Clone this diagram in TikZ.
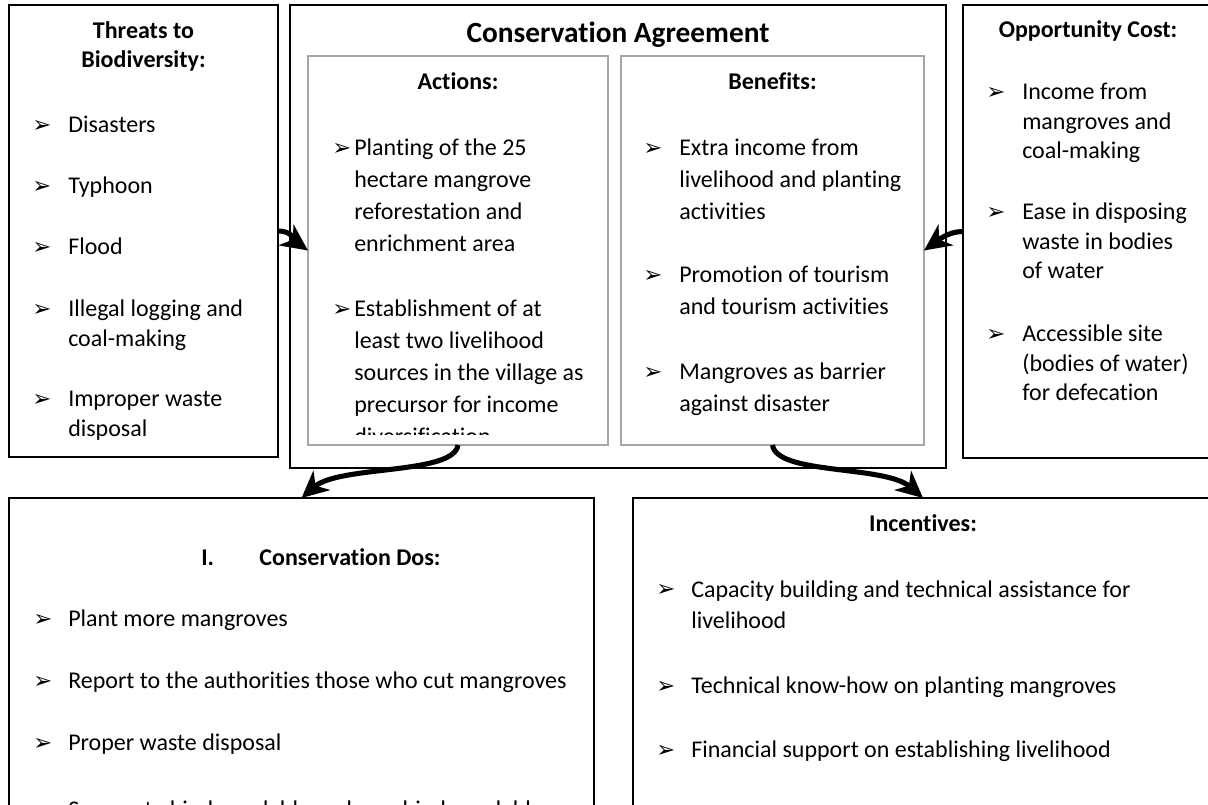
\documentclass[tikz,border=0pt]{standalone}
\usepackage{fontspec}
\setmainfont[Ligatures=NoCommon]{Carlito}
\newfontfamily\arrowfont{DejaVu Sans}
\usetikzlibrary{arrows.meta, fit}

\begin{document}
\begin{tikzpicture}[x=0.75pt, y=-0.75pt,
    outerbox/.style={draw=black, line width=1.9pt, inner sep=0pt, outer sep=0pt},
    innerbox/.style={draw=black!35, line width=1.6pt, inner sep=0pt, outer sep=0pt},
    head/.style={font=\bfseries\fontsize{18}{21.75}\selectfont, anchor=base, align=center, inner sep=0pt},
    bul/.style={font=\arrowfont\fontsize{17}{17}\selectfont, anchor=base west, inner sep=0pt},
    txt/.style={font=\fontsize{18}{22.5}\selectfont, anchor=base west, align=left, inner sep=0pt},
    wide/.style={font=\fontsize{18}{24}\selectfont},
    tight/.style={font=\fontsize{18}{22}\selectfont},
    flow/.style={line width=3.8pt, -{Stealth[length=20pt, width=19pt, inset=6pt]}}]

    \useasboundingbox (0,0) rectangle (1208,805);
    \clip (0,0) rectangle (1208,805);

    % boxes
    \node[outerbox, fit={(9,5) (278,457)}] (threats) {};
    \node[outerbox, fit={(290,5) (946,468)}] (agree) {};
    \node[innerbox, fit={(308,56) (608,445)}] (actions) {};
    \node[innerbox, fit={(621,56) (924,445)}] (benefits) {};
    \node[outerbox, fit={(963,5) (1213,458)}] (opp) {};
    \node[outerbox, fit={(9,498) (594,840)}] (dos) {};
    \node[outerbox, fit={(633,498) (1213,840)}] (incent) {};

    % headings (base = last line)
    \node[head] (thrhead) at (143.5,68) {Threats to\\Biodiversity:};
    \node[head, font=\bfseries\fontsize{22}{26}\selectfont] (agreehead) at (618,43) {Conservation Agreement};
    \node[head] (acthead) at (458,90) {Actions:};
    \node[head] (benhead) at (772.5,90) {Benefits:};
    \node[head] (opphead) at (1088,38) {Opportunity Cost:};
    \node[head, anchor=base west] (doshead) at (201,566) {I.\hspace{34pt}Conservation Dos:};
    \node[head] (inchead) at (923,532) {Incentives:};

    % threats
    \foreach \y/\n/\t [count=\i] in {133/1/Disasters, 194/1/Typhoon, 255/1/Flood,
        317/2/{Illegal logging and\\coal-making}, 407/2/{Improper waste\\disposal}} {
        \node[bul] (thrb\i) at (32,\y) {➢};
        \node[txt] (thr\i) at (68,{\y+(\n-1)*30}) {\t};
    }

    % actions, cut at the bottom of the box
    \begin{scope}
        \clip (310,58) rectangle (606,435);
        \foreach \y/\n/\t [count=\i] in {156/4/{Planting of the 25\\hectare mangrove\\reforestation and\\enrichment area},
            317/5/{Establishment of at\\least two livelihood\\sources in the village as\\precursor for income\\diversification}} {
            \node[bul] (actb\i) at (332,\y) {➢};
            \node[txt, wide] (act\i) at (354,{\y+(\n-1)*32}) {\t};
        }
    \end{scope}

    % benefits
    \foreach \y/\n/\t [count=\i] in {156/3/{Extra income from\\livelihood and planting\\activities},
        283/2/{Promotion of tourism\\and tourism activities}, 380/2/{Mangroves as barrier\\against disaster}} {
        \node[bul] (benb\i) at (643,\y) {➢};
        \node[txt, wide] (ben\i) at (679,{\y+(\n-1)*32}) {\t};
    }

    % opportunity cost
    \foreach \y/\n/\t [count=\i] in {100/3/{Income from\\mangroves and\\coal-making},
        220/3/{Ease in disposing\\waste in bodies\\of water}, 342/3/{Accessible site\\(bodies of water)\\for defecation}} {
        \node[bul] (oppb\i) at (986,\y) {➢};
        \node[txt, tight] (opp\i) at (1022,{\y+(\n-1)*29.33}) {\t};
    }

    % conservation dos
    \foreach \y/\t [count=\i] in {627/Plant more mangroves, 689/Report to the authorities those who cut mangroves,
        750/Proper waste disposal, 817/Segregate biodegradable and non-biodegradable} {
        \node[bul] (dosb\i) at (33,\y) {➢};
        \node[txt] (dos\i) at (68,\y) {\t};
    }

    % incentives
    \foreach \y/\n/\t [count=\i] in {597/2/{Capacity building and technical assistance for\\livelihood},
        693/1/Technical know-how on planting mangroves, 757/1/Financial support on establishing livelihood} {
        \node[bul] (incb\i) at (656,\y) {➢};
        \node[txt, wide] (inc\i) at (691,{\y+(\n-1)*32}) {\t};
    }

    % arrows
    \draw[flow] (threats.east) .. controls +(15,0) and +(-14,-10) .. (actions.west);
    \draw[flow] (opp.west) .. controls +(-15,0) and +(14,-10) .. (benefits.east);
    \draw[flow] (actions.south) .. controls +(-4,30) and +(38,-33) .. (dos.north);
    \draw[flow] (benefits.south) .. controls +(4,30) and +(-38,-33) .. (incent.north);
\end{tikzpicture}
\end{document}
